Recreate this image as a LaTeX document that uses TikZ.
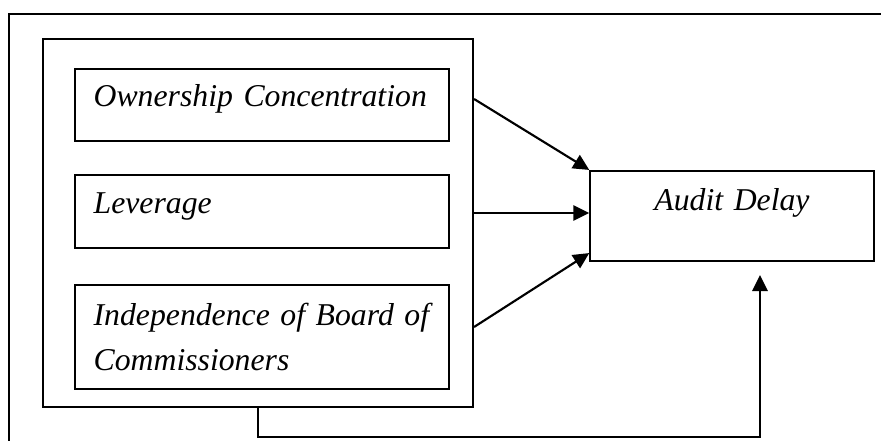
\documentclass[tikz,border=0pt]{standalone}
\usepackage{fontspec}
\setmainfont{Liberation Serif}
\usetikzlibrary{arrows.meta,calc}

\begin{document}
\begin{tikzpicture}[x=0.75pt,y=-0.75pt,
    varbox/.style={draw,line width=1.6pt,text width=252.5pt,
      inner xsep=14pt,align=left,
      font={\fontsize{23.8pt}{33.75pt}\selectfont\itshape}},
    oneline/.style={text height=12pt,text depth=9pt},
    link/.style={line width=1.6pt,-{Triangle[length=12pt,width=11.5pt]}}]

    \useasboundingbox (0,0) rectangle (881,441);

    % page frame
    \draw[line width=1.6pt] (9,441) -- (9,14) -- (881,14);

    % independent variables
    \node[draw,line width=1.6pt,minimum width=322.5pt,minimum height=276pt]
    (IndepVars) at (258,223) {};

    \node[varbox,oneline,minimum height=54pt] (OwnConc) at (262,105)
    {Ownership Concentration};
    \node[varbox,oneline,minimum height=54.75pt] (Lev) at (262,211.5)
    {Leverage};
    \node[varbox,minimum height=78pt] (IndBoard) at (262,337)
    {\mbox{Independence of Board of}\\Commissioners};

    % dependent variable
    \node[varbox,text width=184.5pt,align=center,minimum height=67.5pt,
      text height=12pt,text depth=19.5pt] (AuditDelay) at (732,216)
    {Audit Delay};

    \draw[link] ($(IndepVars.east)+(0,-124)$) -- (AuditDelay.north west);
    \draw[link] ($(IndepVars.east)+(0,-10)$) -- ($(AuditDelay.west)+(0,-3)$);
    \draw[link] ($(IndepVars.east)+(0,104)$) -- ($(AuditDelay.south west)+(0,-9)$);

    \coordinate (FbEnd) at ($(AuditDelay.south)+(28,13)$);
    \draw[link] (IndepVars.south) -- ++(0,29) -| (FbEnd);

  \end{tikzpicture}
\end{document}
